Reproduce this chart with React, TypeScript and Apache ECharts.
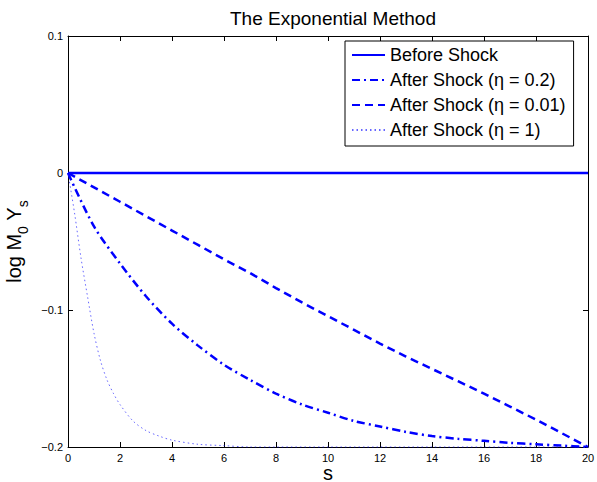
import React, { useEffect, useRef } from "react";
import * as echarts from "echarts";

// s values on the integer grid
const sSteps = [0, 1, 2, 3, 4, 5, 6, 7, 8, 9, 10, 11, 12, 13, 14, 15, 16, 17, 18, 19, 20];
// Before Shock (flat at zero)
const beforeShockS = [0, 20];
const beforeShock = [0, 0];
// After Shock (eta = 0.2)
const afterEta02 = [0, -0.039, -0.066, -0.09, -0.11, -0.126, -0.14, -0.151, -0.161, -0.169, -0.175, -0.181, -0.185, -0.189, -0.192, -0.194, -0.1955, -0.197, -0.198, -0.199, -0.2];
// After Shock (eta = 0.01)
const afterEta001 = [0, -0.0105, -0.021, -0.0315, -0.042, -0.0525, -0.063, -0.073, -0.084, -0.0945, -0.1045, -0.1145, -0.1245, -0.134, -0.143, -0.152, -0.161, -0.1705, -0.18, -0.19, -0.2];
// After Shock (eta = 1), finer s grid
const sFine = [0, 0.25, 0.5, 0.75, 1, 1.25, 1.5, 1.75, 2, 2.5, 3, 3.5, 4, 5, 6, 7, 8, 10, 12, 14, 16, 18, 20];
const afterEta1 = [0, -0.029, -0.062, -0.09, -0.117, -0.137, -0.151, -0.161, -0.169, -0.181, -0.188, -0.192, -0.195, -0.198, -0.199, -0.2, -0.2, -0.2, -0.2, -0.2, -0.2, -0.2, -0.2];

const seriesNames = [
  "Before Shock",
  "After Shock (η = 0.2)",
  "After Shock (η = 0.01)",
  "After Shock (η = 1)",
];

const FONT = "'Liberation Sans', Arial, Helvetica, sans-serif";
const BLUE = "#0000ff";

const zip = (xs: number[], ys: number[]) => xs.map((x, i) => [x, ys[i]]);

const fmtY = (v: number) => {
  if (Math.abs(v) < 1e-9) return "0";
  const s = Math.abs(v).toFixed(1);
  return v < 0 ? "\u2212" + s : s;
};

export default function App() {
  const ref = useRef<HTMLDivElement>(null);
  useEffect(() => {
    if (!ref.current) return;
    const chart = echarts.init(ref.current, undefined, { renderer: "svg" });
    const tickStyle = { show: true, inside: true, length: 5, lineStyle: { color: "#000", width: 1 } };
    const axisLineStyle = { show: true, onZero: false, lineStyle: { color: "#000", width: 1 } };
    chart.setOption({
      animation: false,
      backgroundColor: "#fff",
      title: {
        text: "The Exponential Method",
        left: 328,
        textAlign: "center",
        top: 4,
        textStyle: { fontFamily: FONT, fontSize: 19, fontWeight: "normal", color: "#000" },
      },
      grid: { left: 68, top: 36, width: 520, height: 411, containLabel: false, outerBoundsMode: "none" },
      legend: {
        left: 345,
        top: 41,
        orient: "vertical",
        backgroundColor: "#fff",
        borderColor: "#000",
        borderWidth: 1,
        borderRadius: 0,
        padding: [4, 8, 6, 6],
        itemGap: 5,
        itemWidth: 33,
        itemHeight: 14,
        itemStyle: { color: "transparent", borderWidth: 0, opacity: 0 },
        textStyle: { fontFamily: FONT, fontSize: 18, color: "#000", lineHeight: 20 },
        data: seriesNames,
      },
      xAxis: [
        {
          type: "value",
          position: "bottom",
          min: 0,
          max: 20,
          interval: 2,
          name: "s",
          nameLocation: "middle",
          nameGap: 21,
          nameMoveOverlap: false,
          nameTextStyle: { fontFamily: FONT, fontSize: 20, color: "#000", lineHeight: 10 },
          axisLine: axisLineStyle,
          axisTick: tickStyle,
          axisLabel: { fontFamily: FONT, fontSize: 11, color: "#000", margin: 5 },
          splitLine: { show: false },
        },
        {
          type: "value",
          position: "top",
          min: 0,
          max: 20,
          interval: 2,
          axisLine: axisLineStyle,
          axisTick: tickStyle,
          axisLabel: { show: false },
          splitLine: { show: false },
        },
      ],
      yAxis: [
        {
          type: "value",
          position: "left",
          min: -0.2,
          max: 0.1,
          interval: 0.1,
          name: "{m|log M}{sub|0}{m| Y}{sub|s}",
          nameLocation: "middle",
          nameRotate: 90,
          nameGap: 40,
          nameTextStyle: {
            rich: {
              m: { fontFamily: FONT, fontSize: 20, color: "#000", verticalAlign: "top", lineHeight: 24 },
              sub: { fontFamily: FONT, fontSize: 14, color: "#000", verticalAlign: "top", lineHeight: 16, padding: [12, 0, 0, 0] },
            },
          },
          axisLine: axisLineStyle,
          axisTick: tickStyle,
          axisLabel: { fontFamily: FONT, fontSize: 11, color: "#000", margin: 5, formatter: fmtY },
          splitLine: { show: false },
        },
        {
          type: "value",
          position: "right",
          min: -0.2,
          max: 0.1,
          interval: 0.1,
          axisLine: axisLineStyle,
          axisTick: tickStyle,
          axisLabel: { show: false },
          splitLine: { show: false },
        },
      ],
      series: [
        {
          name: seriesNames[0],
          type: "line",
          data: zip(beforeShockS, beforeShock),
          symbol: "none",
          clip: false,
          lineStyle: { color: BLUE, width: 2.5, type: "solid" },
          itemStyle: { color: BLUE },
        },
        {
          name: seriesNames[1],
          type: "line",
          data: zip(sSteps, afterEta02),
          symbol: "none",
          smooth: 0.3,
          clip: false,
          lineStyle: { color: BLUE, width: 2.5, type: [8, 4, 2, 4] },
          itemStyle: { color: BLUE },
        },
        {
          name: seriesNames[2],
          type: "line",
          data: zip(sSteps, afterEta001),
          symbol: "none",
          clip: false,
          lineStyle: { color: BLUE, width: 2.5, type: [8, 5] },
          itemStyle: { color: BLUE },
        },
        {
          name: seriesNames[3],
          type: "line",
          data: zip(sFine, afterEta1),
          symbol: "none",
          smooth: 0.3,
          clip: false,
          lineStyle: { color: BLUE, width: 1, type: [1.5, 3], opacity: 0.6 },
          itemStyle: { color: BLUE },
        },
      ],
    });
    return () => chart.dispose();
  }, []);
  return (
    <div
      ref={ref}
      style={{ position: "fixed", left: 0, top: 0, width: 597, height: 482 }}
    />
  );
}
